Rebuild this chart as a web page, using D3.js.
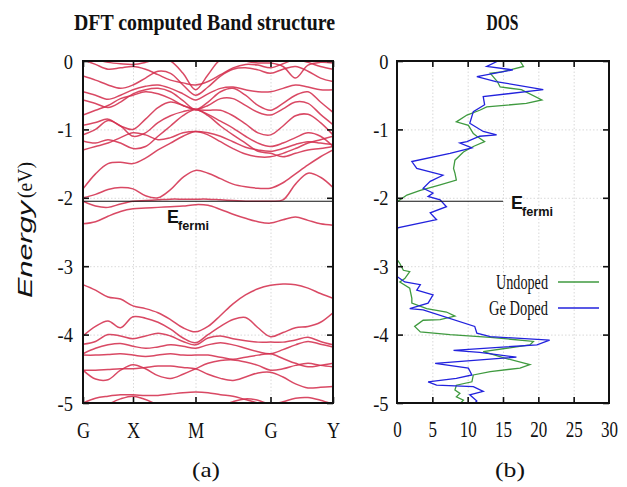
<!DOCTYPE html>
<html><head><meta charset="utf-8">
<script src="https://cdn.jsdelivr.net/npm/d3@7"></script>
<style>body{margin:0;background:#fff}svg{display:block}</style>
</head><body>
<svg id="c" width="627" height="487"></svg>
<script>
// ---------- data ----------
const kGrid = [0,1,2,3,4,5,6,7,8,9,10,11,12,13,14,15,16,17,18,19,20];
const kTickPos = [0, 4, 9, 15, 20];
const kTickLabels = ["G", "X", "M", "G", "Y"];
const energyTicks = [0, -1, -2, -3, -4, -5];
const dosTicks = [0, 5, 10, 15, 20, 25, 30];
const fermiEnergy = -2.05;

const bandsUpper = [
  [0.05,0.02,-0.02,-0.04,-0.05,-0.02,0.03,0.0,-0.18,-0.42,-0.2,0.02,0.05,0.0,-0.03,-0.03,-0.08,-0.25,-0.06,-0.02,-0.03],
  [0.02,-0.05,-0.12,-0.1,-0.08,-0.12,-0.2,-0.28,-0.32,-0.35,-0.3,-0.2,-0.1,-0.05,-0.06,-0.1,-0.04,0.02,-0.02,-0.08,-0.12],
  [-0.22,-0.28,-0.35,-0.4,-0.35,-0.25,-0.15,-0.18,-0.35,-0.5,-0.38,-0.22,-0.12,-0.1,-0.13,-0.18,-0.12,-0.08,-0.15,-0.25,-0.3],
  [-0.45,-0.5,-0.56,-0.5,-0.42,-0.37,-0.35,-0.4,-0.48,-0.57,-0.48,-0.4,-0.38,-0.42,-0.45,-0.45,-0.4,-0.35,-0.38,-0.42,-0.42],
  [-0.57,-0.62,-0.68,-0.6,-0.48,-0.42,-0.4,-0.45,-0.58,-0.71,-0.6,-0.45,-0.4,-0.5,-0.65,-0.72,-0.62,-0.5,-0.45,-0.6,-0.75],
  [-0.79,-0.72,-0.65,-0.55,-0.5,-0.45,-0.48,-0.55,-0.65,-0.71,-0.65,-0.55,-0.55,-0.65,-0.75,-0.79,-0.7,-0.6,-0.62,-0.78,-0.93],
  [-0.94,-0.9,-0.85,-0.95,-1.0,-0.85,-0.68,-0.6,-0.65,-0.71,-0.72,-0.72,-0.8,-0.92,-1.05,-1.08,-0.95,-0.8,-0.78,-0.9,-1.08],
  [-1.08,-1.0,-0.87,-0.95,-1.1,-1.05,-0.9,-0.8,-0.74,-0.71,-0.78,-0.88,-0.98,-1.1,-1.2,-1.25,-1.2,-1.12,-1.05,-1.1,-1.25],
  [-1.17,-1.2,-1.15,-1.2,-1.28,-1.25,-1.1,-0.95,-0.8,-0.71,-0.8,-0.95,-1.08,-1.2,-1.32,-1.35,-1.4,-1.35,-1.3,-1.28,-1.25],
  [-1.3,-1.25,-1.2,-1.12,-1.05,-1.08,-1.15,-1.12,-1.05,-1.03,-1.05,-1.1,-1.18,-1.26,-1.3,-1.32,-1.28,-1.22,-1.18,-1.2,-1.22],
  [-1.87,-1.65,-1.5,-1.48,-1.5,-1.42,-1.3,-1.2,-1.1,-1.03,-1.08,-1.18,-1.28,-1.36,-1.4,-1.4,-1.35,-1.28,-1.2,-1.15,-1.1],
  [-2.0,-1.95,-1.88,-1.85,-1.87,-1.97,-2.0,-1.88,-1.7,-1.6,-1.64,-1.72,-1.8,-1.84,-1.86,-1.86,-1.78,-1.65,-1.52,-1.4,-1.3],
  [-2.05,-2.12,-2.14,-2.09,-2.05,-2.04,-2.03,-2.02,-2.02,-2.02,-2.02,-2.03,-2.04,-2.05,-2.05,-2.05,-2.03,-1.8,-1.64,-1.7,-1.85],
  [-2.38,-2.35,-2.27,-2.2,-2.16,-2.15,-2.14,-2.13,-2.12,-2.1,-2.11,-2.17,-2.24,-2.3,-2.35,-2.37,-2.32,-2.28,-2.33,-2.38,-2.4]
];

const bandsLower = [
  [-3.27,-3.35,-3.45,-3.48,-3.58,-3.62,-3.68,-3.78,-3.9,-3.96,-3.88,-3.72,-3.55,-3.42,-3.33,-3.28,-3.26,-3.27,-3.32,-3.4,-3.47],
  [-4.02,-3.88,-3.8,-3.9,-3.74,-3.76,-3.82,-3.92,-4.05,-4.12,-4.0,-3.88,-3.78,-3.75,-3.9,-4.03,-3.97,-3.9,-3.88,-3.82,-3.68],
  [-4.14,-4.1,-4.0,-4.02,-4.06,-4.02,-3.98,-4.02,-4.1,-4.15,-4.05,-4.02,-4.06,-4.09,-4.11,-4.11,-4.11,-4.08,-4.04,-4.1,-4.15],
  [-4.28,-4.2,-4.15,-4.13,-4.17,-4.2,-4.18,-4.15,-4.17,-4.2,-4.15,-4.12,-4.15,-4.2,-4.25,-4.28,-4.22,-4.15,-4.1,-4.14,-4.18],
  [-4.3,-4.3,-4.29,-4.28,-4.3,-4.32,-4.3,-4.28,-4.3,-4.3,-4.3,-4.33,-4.36,-4.33,-4.3,-4.28,-4.35,-4.42,-4.47,-4.45,-4.42],
  [-4.52,-4.65,-4.66,-4.52,-4.44,-4.5,-4.6,-4.64,-4.58,-4.5,-4.42,-4.38,-4.37,-4.4,-4.45,-4.52,-4.5,-4.45,-4.42,-4.45,-4.47],
  [-4.52,-4.52,-4.51,-4.5,-4.5,-4.48,-4.46,-4.46,-4.48,-4.5,-4.58,-4.64,-4.67,-4.62,-4.56,-4.55,-4.62,-4.72,-4.78,-4.77,-4.76],
  [-5.0,-4.93,-4.9,-4.88,-4.88,-4.89,-4.89,-4.87,-4.85,-4.84,-4.85,-4.88,-4.9,-4.95,-5.0,-5.05,-5.1,-5.1,-5.1,-5.1,-5.1],
  [-5.2,-5.12,-5.02,-4.94,-4.9,-4.95,-5.03,-5.1,-5.15,-5.15,-5.12,-5.05,-4.98,-4.94,-4.96,-5.02,-4.98,-4.93,-4.92,-4.96,-5.02]
];

// DOS: [energy, states]
const undopedDOS = [
  [0,17.4],[-0.08,17.9],[-0.16,14.8],[-0.18,13.2],[-0.3,14.2],[-0.38,14.6],[-0.42,17.6],[-0.57,20.5],[-0.62,18.3],
  [-0.67,12.7],[-0.72,11.7],[-0.79,9.9],[-0.89,8.4],[-0.94,10.1],[-1.06,10.8],[-1.1,11.3],[-1.18,12.4],[-1.25,10.8],
  [-1.33,9.4],[-1.45,8.2],[-1.57,8.0],[-1.64,8.2],[-1.74,8.4],[-1.81,6.1],[-1.89,3.3],[-1.96,1.4],[-2.06,0],[-2.9,0],
  [-2.96,0.4],[-3.06,0.9],[-3.08,1.8],[-3.18,1.1],[-3.23,0.4],[-3.32,1.8],[-3.47,2.1],[-3.54,2.1],[-3.62,4.2],[-3.67,7.0],
  [-3.73,8.2],[-3.78,6.1],[-3.79,3.7],[-3.88,2.5],[-3.96,3.3],[-4.0,7.5],[-4.04,13.2],[-4.1,19.3],[-4.15,18.8],[-4.25,12.2],
  [-4.35,15.5],[-4.44,18.8],[-4.49,17.4],[-4.54,13.2],[-4.59,10.8],[-4.69,10.6],[-4.74,8.4],[-4.81,8.2],[-4.86,8.9],
  [-4.91,8.4],[-4.96,9.4],[-5.0,9.0]
];
const geDopedDOS = [
  [0,14.3],[-0.08,12.7],[-0.13,16.4],[-0.23,11.3],[-0.3,14.0],[-0.42,20.7],[-0.52,12.2],[-0.64,12.4],[-0.74,10.8],
  [-0.91,10.3],[-1.03,12.2],[-1.08,14.1],[-1.1,11.7],[-1.18,9.9],[-1.2,8.9],[-1.27,10.6],[-1.35,7.5],[-1.47,2.1],
  [-1.57,2.8],[-1.62,4.7],[-1.67,6.5],[-1.76,4.7],[-1.86,3.7],[-1.93,5.1],[-1.98,4.4],[-2.03,6.1],[-2.13,7.0],[-2.22,4.7],
  [-2.32,5.6],[-2.44,0.1],[-2.5,0],[-3.15,0],[-3.23,1.1],[-3.27,3.3],[-3.35,2.8],[-3.42,5.1],[-3.54,4.4],[-3.62,1.8],
  [-3.64,3.7],[-3.88,11.0],[-3.98,11.3],[-4.03,13.2],[-4.08,21.6],[-4.15,19.8],[-4.23,8.0],[-4.26,11.7],[-4.33,16.9],
  [-4.35,14.1],[-4.42,5.4],[-4.49,10.1],[-4.59,10.6],[-4.64,8.4],[-4.69,4.4],[-4.74,5.6],[-4.76,10.8],[-4.83,12.2],
  [-4.88,10.3],[-4.97,11.3],[-5.0,11.0]
];
const legendNames = ["Undoped", "Ge Doped"];

// ---------- drawing ----------
const svg = d3.select("#c");
const SERIF = "'Liberation Serif','Times New Roman',serif";
const SANS = "'Liberation Sans',Arial,sans-serif";
const bandColor = "#d4304f", green = "#3f9a3f", blue = "#2222dd";

const PL = {x0: 83, x1: 333}, PR = {x0: 397, x1: 609}, yTop = 61, yBot = 403;
const y = d3.scaleLinear().domain([-5, 0]).range([yBot, yTop]);
const xk = d3.scaleLinear().domain([0, 20]).range([PL.x0, PL.x1]);
const xd = d3.scaleLinear().domain([0, 30]).range([PR.x0, PR.x1]);

const defs = svg.append("defs");
defs.append("clipPath").attr("id", "clipL").append("rect")
  .attr("x", PL.x0).attr("y", yTop).attr("width", PL.x1 - PL.x0).attr("height", yBot - yTop);
defs.append("clipPath").attr("id", "clipR").append("rect")
  .attr("x", PR.x0).attr("y", yTop).attr("width", PR.x1 - PR.x0).attr("height", yBot - yTop);

function grid(xScale, xVals, x0, x1) {
  const g = svg.append("g");
  g.append("g").attr("transform", `translate(${x0},0)`)
    .call(d3.axisRight(y).tickValues([-1, -2, -3, -4]).tickSize(x1 - x0).tickFormat(""))
    .call(s => s.select(".domain").remove());
  g.append("g").attr("transform", `translate(0,${yTop})`)
    .call(d3.axisBottom(xScale).tickValues(xVals).tickSize(yBot - yTop).tickFormat(""))
    .call(s => s.select(".domain").remove());
  g.selectAll(".tick line").attr("stroke", "#cfcfcf").attr("stroke-width", 0.8).attr("stroke-dasharray", "1.5,2");
}
grid(xk, [4, 9, 15], PL.x0, PL.x1);
grid(xd, [5, 10, 15, 20, 25], PR.x0, PR.x1);

function frameTicks(xScale, xTickVals, xLabelVals, x0, x1, yLabelPad, xLabelFont, xScaleX, xLabelPad, xFmt) {
  const tick = 6;
  const t = svg.append("g");
  t.append("g").attr("transform", `translate(${x0},0)`).call(d3.axisRight(y).tickValues(energyTicks).tickSize(tick).tickFormat(""));
  t.append("g").attr("transform", `translate(${x1},0)`).call(d3.axisLeft(y).tickValues(energyTicks).tickSize(tick).tickFormat(""));
  t.append("g").attr("transform", `translate(0,${yTop})`).call(d3.axisBottom(xScale).tickValues(xTickVals).tickSize(tick).tickFormat(""));
  t.append("g").attr("transform", `translate(0,${yBot})`).call(d3.axisTop(xScale).tickValues(xTickVals).tickSize(tick).tickFormat(""));
  t.selectAll(".domain").remove();
  t.selectAll(".tick line").attr("stroke", "#111").attr("stroke-width", 1.6);
  const yl = svg.append("g").attr("transform", `translate(${x0},0)`)
    .call(d3.axisLeft(y).tickValues(energyTicks).tickSize(0).tickPadding(yLabelPad).tickFormat(d => String(d)));
  yl.select(".domain").remove();
  yl.selectAll("text").attr("font-family", SERIF).attr("font-size", 22).attr("fill", "#111")
    .attr("transform", "scale(0.84,1)");
  const xl = svg.append("g").attr("transform", `translate(0,${yBot})`)
    .call(d3.axisBottom(xScale).tickValues(xLabelVals).tickSize(0).tickPadding(xLabelPad).tickFormat(xFmt));
  xl.select(".domain").remove();
  xl.selectAll("text").attr("font-family", SERIF).attr("font-size", xLabelFont).attr("fill", "#111")
    .attr("transform", `scale(${xScaleX},1)`);
}

// ---- Band structure panel ----
const bandLine = d3.line().x((d, i) => xk(kGrid[i])).y(d => y(d)).curve(d3.curveCatmullRom.alpha(0.5));
const gb = svg.append("g").attr("clip-path", "url(#clipL)");
gb.selectAll("path.band").data(bandsUpper.concat(bandsLower)).join("path")
  .attr("class", "band").attr("d", bandLine)
  .attr("fill", "none").attr("stroke", bandColor).attr("stroke-width", 1.5).attr("stroke-opacity", 0.88);

svg.append("line").attr("x1", PL.x0).attr("x2", PL.x1).attr("y1", y(fermiEnergy)).attr("y2", y(fermiEnergy))
  .attr("stroke", "#111").attr("stroke-width", 1.1);

// ---- DOS panel ----
const dosLine = d3.line().x(d => xd(d[1])).y(d => y(d[0]));
const gd = svg.append("g").attr("clip-path", "url(#clipR)");
gd.append("path").datum(undopedDOS).attr("d", dosLine).attr("fill", "none").attr("stroke", green).attr("stroke-width", 1.3);
gd.append("path").datum(geDopedDOS).attr("d", dosLine).attr("fill", "none").attr("stroke", blue).attr("stroke-width", 1.3);
svg.append("line").attr("x1", xd(0)).attr("x2", xd(15)).attr("y1", y(fermiEnergy)).attr("y2", y(fermiEnergy))
  .attr("stroke", "#111").attr("stroke-width", 1.1);

frameTicks(xk, kTickPos, kTickPos, PL.x0, PL.x1, 12, 24, 0.76, 18, d => kTickLabels[kTickPos.indexOf(d)]);
frameTicks(xd, dosTicks.slice(1, -1), dosTicks, PR.x0, PR.x1, 10, 23, 0.74, 18, d => String(d));

[PL, PR].forEach(p => svg.append("rect").attr("x", p.x0).attr("y", yTop).attr("width", p.x1 - p.x0).attr("height", yBot - yTop)
  .attr("fill", "none").attr("stroke", "#111").attr("stroke-width", 2));

function label(txt, x, yy, size, len, opts = {}) {
  const t = svg.append("text").attr("x", x).attr("y", yy).attr("text-anchor", opts.anchor || "middle")
    .attr("font-family", opts.family || SERIF).attr("font-size", size).attr("font-weight", opts.weight || "normal")
    .attr("font-style", opts.style || "normal").attr("fill", "#111").text(txt);
  if (len) t.attr("textLength", len).attr("lengthAdjust", "spacingAndGlyphs");
  return t;
}
label("DFT computed Band structure", 204.5, 30, 23, 261, {weight: "bold"});
label("DOS", 502.5, 30, 23, 32, {weight: "bold"});
label("(a)", 206, 477, 22, 28);
label("(b)", 510, 477, 22, 30);

const yt = svg.append("g").attr("transform", "translate(32,298) rotate(-90)");
yt.append("text").attr("x", 0).attr("y", 0).attr("font-family", SANS).attr("font-style", "italic")
  .attr("font-size", 21).attr("fill", "#111").attr("textLength", 97).attr("lengthAdjust", "spacingAndGlyphs").text("Energy");
yt.append("text").attr("x", 100).attr("y", 0).attr("font-family", SERIF)
  .attr("font-size", 21).attr("fill", "#111").attr("textLength", 36).attr("lengthAdjust", "spacingAndGlyphs").text("(eV)");

function efermi(x, yy) {
  svg.append("text").attr("x", x).attr("y", yy).attr("font-family", SANS).attr("font-weight", "bold")
    .attr("font-size", 18).attr("fill", "#111").text("E");
  svg.append("text").attr("x", x + 11).attr("y", yy + 7).attr("font-family", SANS).attr("font-weight", "bold")
    .attr("font-size", 13).attr("fill", "#111").attr("textLength", 31).attr("lengthAdjust", "spacingAndGlyphs").text("fermi");
}
efermi(167, 223);
efermi(511, 209);

const leg = [{name: legendNames[0], color: green, yy: 282}, {name: legendNames[1], color: blue, yy: 308}];
leg.forEach((d, i) => {
  label(d.name, 548, d.yy + 7, 20, i === 0 ? 52 : 59, {anchor: "end"});
  svg.append("line").attr("x1", 558).attr("x2", 599).attr("y1", d.yy).attr("y2", d.yy)
    .attr("stroke", d.color).attr("stroke-width", 1.4);
});
</script>
</body></html>
